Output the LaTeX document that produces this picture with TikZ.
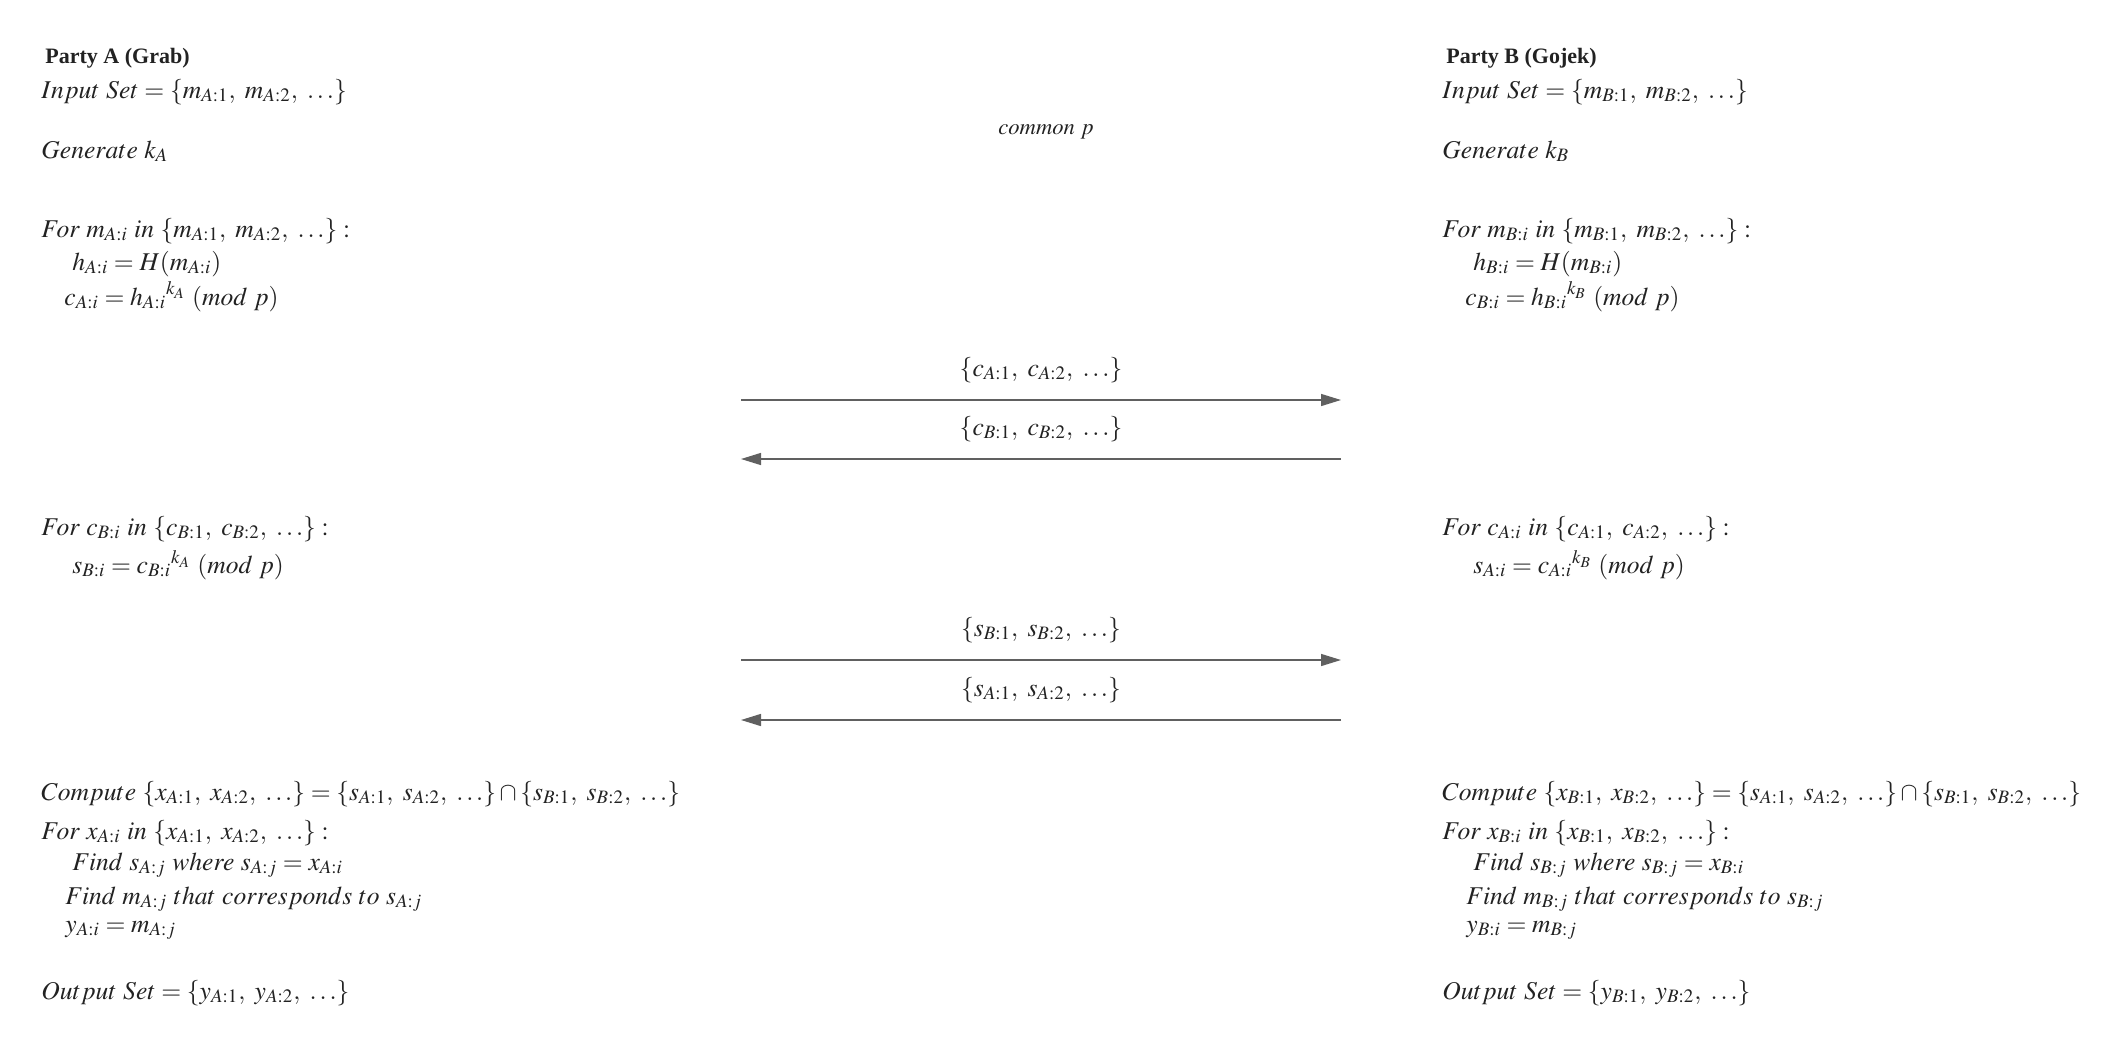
\documentclass[tikz,border=0pt]{standalone}
\usepackage{mathptmx}
\usepackage[no-math]{fontspec}
\setmainfont{Liberation Serif}
\definecolor{txtgray}{RGB}{34,34,34}
\definecolor{arrgray}{RGB}{96,96,96}
\usetikzlibrary{arrows.meta,positioning}

\begin{document}
\begin{tikzpicture}[x=0.5pt, y=-0.5pt,
  party/.style={anchor=base west, inner sep=0pt, text=txtgray,
                font=\fontsize{11}{13}\selectfont\bfseries},
  stmt/.style={anchor=base west, inner sep=0pt, text=txtgray,
               font=\fontsize{12.8}{15}\selectfont},
  msg/.style={anchor=base, inner sep=0pt, text=txtgray,
              font=\fontsize{12.8}{15}\selectfont},
  arr/.style={-{Triangle[length=10pt, width=6pt]}, line width=0.7pt, draw=arrgray}
]
\useasboundingbox (0,0) rectangle (2125,1044);

% Party A
\node[party] (pa)      at (45,63)   {Party A (Grab)};
\node[stmt]  (ainput)  at (41,98)   {$Input\ Set = \{m_{A:1},\ m_{A:2},\ \ldots\}$};
\node[stmt]  (agen)    at (41,158)  {$Generate\ k_A$};
\node[stmt]  (afor)    at (41,237)  {$For\ m_{A:i}\ in\ \{m_{A:1},\ m_{A:2},\ \ldots\}:$};
\node[stmt]  (ahash)   at (72,270)  {$h_{A:i} = H(m_{A:i})$};
\node[stmt]  (aenc)    at (64,305)  {$c_{A:i} = {h_{A:i}}^{k_A}\ (mod\ p)$};
\node[stmt]  (afor2)   at (41,535)  {$For\ c_{B:i}\ in\ \{c_{B:1},\ c_{B:2},\ \ldots\}:$};
\node[stmt]  (aenc2)   at (72,573)  {$s_{B:i} = {c_{B:i}}^{k_A}\ (mod\ p)$};
\node[stmt]  (acomp)   at (41,800)  {$Compute\ \{x_{A:1},\ x_{A:2},\ \ldots\} = \{s_{A:1},\ s_{A:2},\ \ldots\} \cap \{s_{B:1},\ s_{B:2},\ \ldots\}$};
\node[stmt]  (afor3)   at (41,839)  {$For\ x_{A:i}\ in\ \{x_{A:1},\ x_{A:2},\ \ldots\}:$};
\node[stmt]  (afinds)  at (72,870)  {$Find\ s_{A:j}\ where\ s_{A:j} = x_{A:i}$};
\node[stmt]  (afindm)  at (65,904)  {$Find\ m_{A:j}\ that\ corresponds\ to\ s_{A:j}$};
\node[stmt]  (aout1)   at (65,932)  {$y_{A:i} = m_{A:j}$};
\node[stmt]  (aout)    at (41,999)  {$Output\ Set = \{y_{A:1},\ y_{A:2},\ \ldots\}$};

% Party B
\node[party] (pb)      at (1446,63)  {Party B (Gojek)};
\node[stmt]  (binput)  at (1442,98)  {$Input\ Set = \{m_{B:1},\ m_{B:2},\ \ldots\}$};
\node[stmt]  (bgen)    at (1442,158) {$Generate\ k_B$};
\node[stmt]  (bfor)    at (1442,237) {$For\ m_{B:i}\ in\ \{m_{B:1},\ m_{B:2},\ \ldots\}:$};
\node[stmt]  (bhash)   at (1473,270) {$h_{B:i} = H(m_{B:i})$};
\node[stmt]  (benc)    at (1465,305) {$c_{B:i} = {h_{B:i}}^{k_B}\ (mod\ p)$};
\node[stmt]  (bfor2)   at (1442,535) {$For\ c_{A:i}\ in\ \{c_{A:1},\ c_{A:2},\ \ldots\}:$};
\node[stmt]  (benc2)   at (1473,573) {$s_{A:i} = {c_{A:i}}^{k_B}\ (mod\ p)$};
\node[stmt]  (bcomp)   at (1442,800) {$Compute\ \{x_{B:1},\ x_{B:2},\ \ldots\} = \{s_{A:1},\ s_{A:2},\ \ldots\} \cap \{s_{B:1},\ s_{B:2},\ \ldots\}$};
\node[stmt]  (bfor3)   at (1442,839) {$For\ x_{B:i}\ in\ \{x_{B:1},\ x_{B:2},\ \ldots\}:$};
\node[stmt]  (bfinds)  at (1473,870) {$Find\ s_{B:j}\ where\ s_{B:j} = x_{B:i}$};
\node[stmt]  (bfindm)  at (1466,904) {$Find\ m_{B:j}\ that\ corresponds\ to\ s_{B:j}$};
\node[stmt]  (bout1)   at (1466,932) {$y_{B:i} = m_{B:j}$};
\node[stmt]  (bout)    at (1442,999) {$Output\ Set = \{y_{B:1},\ y_{B:2},\ \ldots\}$};

% Shared modulus
\node[msg, font=\fontsize{11.3}{13}\selectfont] (common) at (1046,134) {$common\ p$};

% Message ends
\coordinate (c1l) at (741,400);  \coordinate (c1r) at (1341,400);
\coordinate (c2l) at (741,459);  \coordinate (c2r) at (1341,459);
\coordinate (c3l) at (741,660);  \coordinate (c3r) at (1341,660);
\coordinate (c4l) at (741,720);  \coordinate (c4r) at (1341,720);

% Messages
\draw[arr] (c1l) -- node[msg, midway, yshift=12pt] (m1) {$\{c_{A:1},\ c_{A:2},\ \ldots\}$} (c1r);
\draw[arr] (c2r) -- node[msg, midway, yshift=12pt] (m2) {$\{c_{B:1},\ c_{B:2},\ \ldots\}$} (c2l);
\draw[arr] (c3l) -- node[msg, midway, yshift=12pt] (m3) {$\{s_{B:1},\ s_{B:2},\ \ldots\}$} (c3r);
\draw[arr] (c4r) -- node[msg, midway, yshift=12pt] (m4) {$\{s_{A:1},\ s_{A:2},\ \ldots\}$} (c4l);
\end{tikzpicture}
\end{document}
